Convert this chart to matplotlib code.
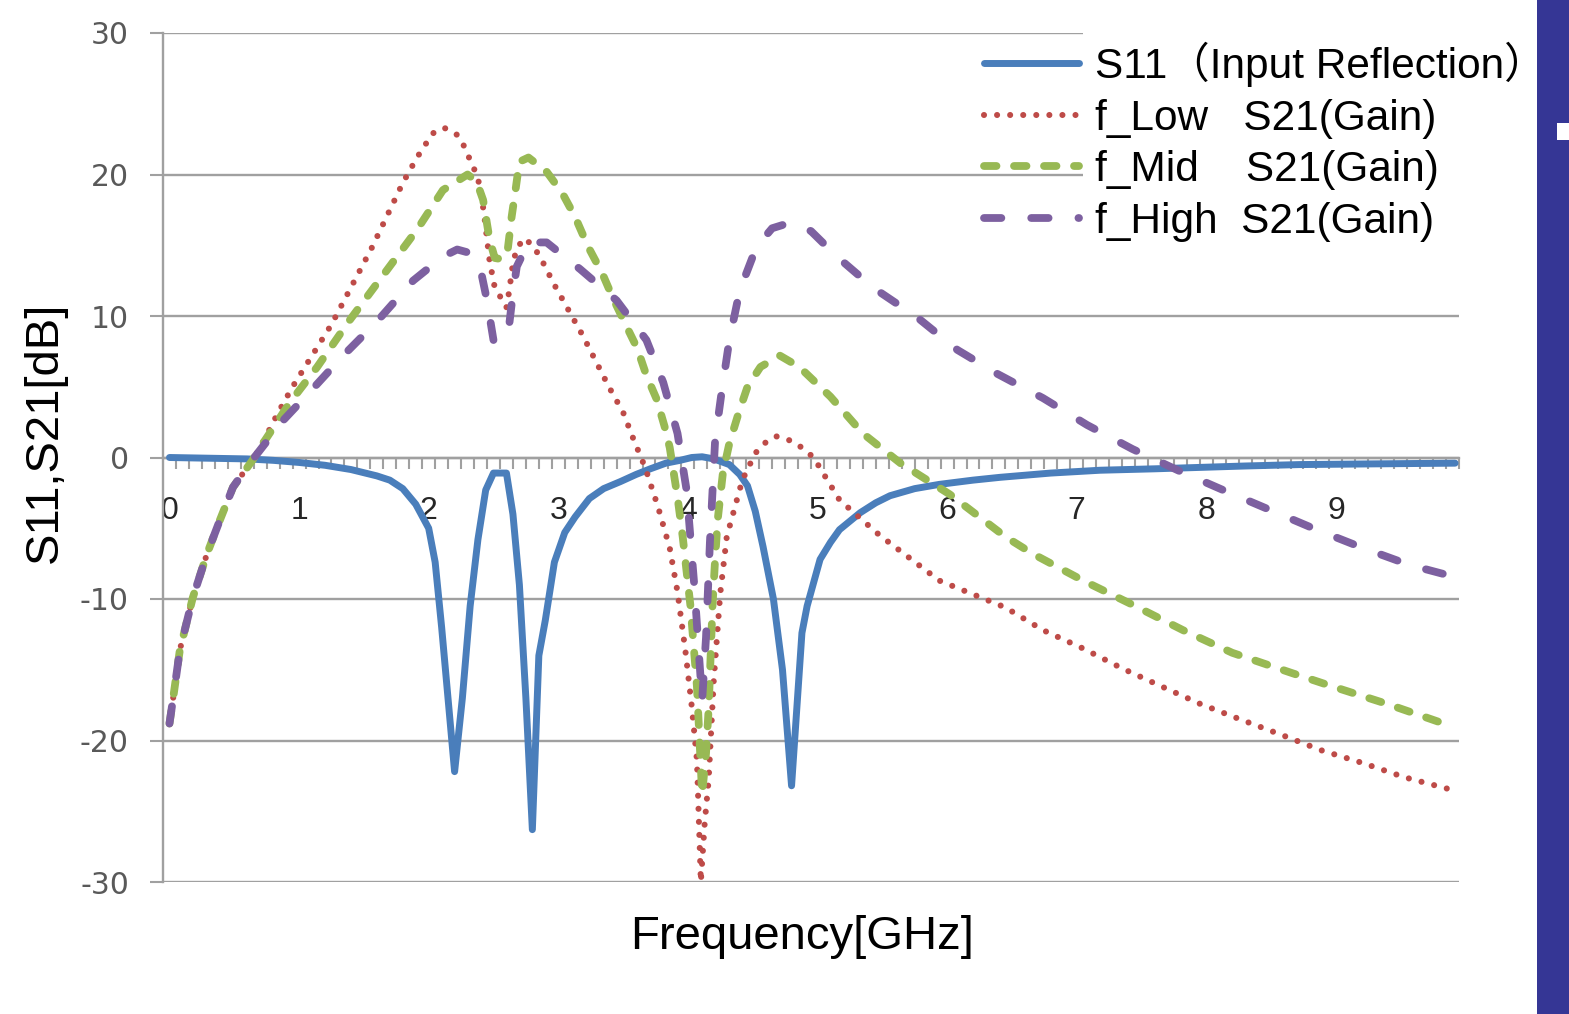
import matplotlib
matplotlib.use("Agg")
import matplotlib.pyplot as plt
import numpy as np
from matplotlib.patches import Rectangle
from matplotlib import font_manager as fm

plt.rcParams['lines.scale_dashes'] = False

# ---------------- data ----------------
s11_f = [0, 0.3, 0.6, 0.8, 1.0, 1.2, 1.4, 1.6, 1.7, 1.8, 1.9, 2.0, 2.05, 2.1, 2.2, 2.26, 2.32,
         2.38, 2.44, 2.5, 2.6, 2.65, 2.7, 2.75, 2.8, 2.85, 2.9, 2.97, 3.05, 3.13, 3.24, 3.35,
         3.48, 3.6, 3.71, 3.83, 3.94, 4.03, 4.11, 4.2, 4.32, 4.4, 4.46, 4.52, 4.58, 4.66, 4.73,
         4.8, 4.88, 4.92, 5.02, 5.1, 5.17, 5.33, 5.45, 5.56, 5.75, 5.94, 6.2, 6.41, 6.8, 7.18,
         7.6, 7.95, 8.3, 8.72, 9.3, 9.92]
s11_db = [0, -0.05, -0.1, -0.2, -0.35, -0.55, -0.85, -1.3, -1.6, -2.2, -3.3, -5.0, -7.4, -12,
          -22.2, -17, -10.5, -5.8, -2.3, -1.1, -1.1, -4, -9, -17, -26.3, -14, -11.5, -7.4,
          -5.3, -4.2, -2.9, -2.2, -1.7, -1.2, -0.8, -0.4, -0.2, 0.0, 0.05, -0.1, -0.5, -1.2,
          -2.0, -3.8, -6.3, -10, -15, -23.2, -12.4, -10.5, -7.2, -6.0, -5.1, -3.9, -3.2, -2.7,
          -2.2, -1.9, -1.6, -1.4, -1.1, -0.9, -0.8, -0.7, -0.6, -0.5, -0.45, -0.4]

low_f = [0, 0.03, 0.08, 0.18, 0.29, 0.39, 0.49, 0.64, 0.7, 0.84, 0.95, 1.25, 1.56, 1.8, 1.91,
         2.03, 2.12, 2.22, 2.28, 2.32, 2.37, 2.40, 2.43, 2.47, 2.51, 2.57, 2.60, 2.62, 2.65,
         2.68, 2.74, 2.81, 2.87, 2.97, 3.08, 3.19, 3.29, 3.39, 3.50, 3.58, 3.67, 3.77, 3.86,
         3.92, 3.98, 4.03, 4.07, 4.1, 4.13, 4.16, 4.2, 4.25, 4.3, 4.36, 4.42, 4.52, 4.59,
         4.68, 4.79, 4.88, 4.97, 5.17, 5.48, 5.94, 6.45, 6.74, 7.05, 7.35, 7.66, 7.95, 8.26,
         8.58, 8.89, 9.21, 9.53, 9.9]
low_db = [-18.8, -16.9, -13.6, -9.9, -6.8, -4.4, -2.1, -0.2, 0.7, 3.2, 5.0, 9.4, 14.8, 19.4,
          21.2, 22.9, 23.3, 22.8, 21.9, 21.0, 20.0, 19.0, 17.0, 13.9, 12.0, 11.1, 10.6, 11.7,
          13.7, 14.8, 15.5, 14.9, 14.0, 12.2, 10.4, 8.6, 6.8, 5.0, 3.2, 1.3, -0.7, -3.5, -6.4,
          -9.5, -13.6, -17.6, -21.4, -30, -25.8, -22.8, -15.7, -9.6, -5.6, -3.6, -1.6, 0.3,
          1.0, 1.5, 1.2, 0.7, 0.0, -3.0, -5.5, -8.7, -10.6, -12.2, -13.5, -14.9, -16.2, -17.4,
          -18.5, -19.6, -20.7, -21.6, -22.6, -23.5]

mid_f = [0, 0.03, 0.08, 0.18, 0.29, 0.39, 0.49, 0.64, 0.70, 0.93, 1.14, 1.39, 1.65, 1.91, 2.11,
         2.30, 2.37, 2.42, 2.47, 2.51, 2.57, 2.61, 2.64, 2.67, 2.70, 2.77, 2.91, 3.03, 3.13,
         3.23, 3.34, 3.42, 3.53, 3.61, 3.68, 3.76, 3.82, 3.86, 3.92, 3.96, 4.02, 4.07, 4.11,
         4.14, 4.16, 4.19, 4.21, 4.23, 4.27, 4.32, 4.39, 4.46, 4.56, 4.71, 4.86, 5.1, 5.35,
         5.64, 6.02, 6.45, 6.66, 7.05, 7.43, 7.82, 8.2, 8.65, 8.98, 9.39, 9.8]
mid_db = [-18.8, -16.9, -13.6, -9.9, -6.8, -4.4, -2.1, -0.2, 0.7, 3.9, 6.4, 9.7, 12.9, 16.1,
          18.9, 20.0, 19.5, 18.2, 15.4, 14.1, 14.0, 14.7, 17.0, 18.9, 20.9, 21.2, 20.2, 18.7,
          17.0, 14.9, 13.0, 11.3, 9.2, 7.7, 5.8, 4.1, 2.2, 0.7, -2.8, -5.6, -10.5, -16.2,
          -23.8, -20.9, -17.8, -10.5, -7.2, -4.4, -1.1, 1.0, 3.1, 5.0, 6.4, 7.2, 6.4, 4.3, 1.7,
          -0.4, -2.6, -5.6, -6.8, -8.7, -10.4, -12.2, -13.8, -15.2, -16.2, -17.4, -18.7]

high_f = [0, 0.03, 0.08, 0.18, 0.29, 0.39, 0.49, 0.62, 0.88, 1.08, 1.34, 1.60, 1.88, 2.11, 2.22,
          2.30, 2.40, 2.45, 2.50, 2.61, 2.65, 2.68, 2.77, 2.91, 3.17, 3.45, 3.68, 3.81, 3.92,
          3.99, 4.05, 4.11, 4.14, 4.17, 4.21, 4.26, 4.32, 4.40, 4.53, 4.65, 4.79, 4.95, 5.15,
          5.43, 5.77, 6.08, 6.39, 6.74, 7.08, 7.43, 7.78, 8.13, 8.49, 8.85, 9.21, 9.57, 9.9]
high_db = [-18.8, -16.9, -13.6, -9.9, -6.8, -4.4, -2.1, -0.4, 2.65, 4.6, 7.2, 9.6, 12.5, 14.2,
           14.7, 14.5, 13.3, 11.1, 8.3, 8.5, 11.6, 13.5, 15.2, 15.2, 13.3, 11.1, 8.3, 5.3, 1.7,
           -2.3, -9.1, -17.2, -12.7, -6.0, 1.2, 4.6, 8.3, 11.8, 14.9, 16.2, 16.6, 16.0, 14.2,
           12.0, 9.9, 7.6, 5.9, 4.2, 2.3, 0.6, -0.9, -2.3, -3.7, -5.1, -6.4, -7.6, -8.4]

labels = ["S11\uff08Input Reflection\uff09", "f_Low   S21(Gain)",
          "f_Mid    S21(Gain)", "f_High  S21(Gain)"]
x_ticks = list(range(10))
y_ticks = [-30, -20, -10, 0, 10, 20, 30]

# ---------------- figure ----------------
W, H = 1569, 1014
fig = plt.figure(figsize=(W / 100, H / 100), dpi=100)
fig.patch.set_facecolor("white")
ax = fig.add_axes([163 / W, 1 - 882 / H, (1459 - 163) / W, (882 - 33) / H])
ax.set_xlim(-0.05, 9.95)
ax.set_ylim(-30, 30)

grey = "#A0A0A0"
ax.set_axisbelow(True)
ax.yaxis.grid(True, color=grey, lw=1.7)
ax.xaxis.grid(False)
for s in ["top", "right"]:
    ax.spines[s].set_visible(False)
ax.spines["left"].set_color(grey)
ax.spines["left"].set_linewidth(1.7)
ax.spines["bottom"].set_position(("data", 0))
ax.spines["bottom"].set_color(grey)
ax.spines["bottom"].set_linewidth(1.7)

ax.set_yticks(y_ticks)
ax.set_yticklabels([str(v) for v in y_ticks], fontsize=21.5, color="#595959",
                   family="DejaVu Sans")
ax.tick_params(axis="y", length=9.5, width=1.5, color=grey, pad=15)

ax.set_xticks(x_ticks)
ax.set_xticklabels([str(v) for v in x_ticks], fontsize=23, color="#262626",
                   family="Liberation Sans")
ax.set_xticks(np.arange(0.05, 9.96, 0.1), minor=True)
ax.tick_params(axis="x", which="major", length=0, pad=27.5)
ax.tick_params(axis="x", which="minor", length=8, width=1.5, color=grey, direction="out")

# ---------------- series ----------------
l1, = ax.plot(s11_f, s11_db, color="#4A7EBB", lw=5.0, solid_joinstyle="round",
              solid_capstyle="round", zorder=3)
l2, = ax.plot(low_f, low_db, color="#BE4B48", lw=4.4, linestyle=(0, (0.01, 9.4)),
              dash_capstyle="round", zorder=4)
l3, = ax.plot(mid_f, mid_db, color="#98B954", lw=5.6, linestyle=(0, (9.0, 12.6)),
              dash_capstyle="round", zorder=5)
l4, = ax.plot(high_f, high_db, color="#7D60A0", lw=5.6, linestyle=(0, (12.5, 21.5)),
              dash_capstyle="round", zorder=6)

# white area behind the legend hiding grid lines
ax.add_patch(Rectangle((1083 / W, 1 - 245 / H), 377 / W, 220 / H, transform=fig.transFigure,
                       facecolor="white", edgecolor="none", clip_on=False, zorder=1))

prop = fm.FontProperties(family=["Liberation Sans", "Noto Sans CJK JP"], size=30.5)
leg = ax.legend([l1, l2, l3, l4], labels, loc="upper left",
                bbox_to_anchor=(984 / W, 1 - 42 / H), bbox_transform=fig.transFigure,
                frameon=False, prop=prop, handlelength=2.25, handletextpad=0.38,
                labelspacing=0.27, borderpad=0, borderaxespad=0)
leg.set_zorder(10)

# axis titles
names = {f.name for f in fm.fontManager.ttflist}
if "Liberation Sans Narrow" in names:
    fig.text(45 / W, 1 - 432 / H, "S11,S21[dB]", rotation=90, ha="center", va="center",
             fontsize=40, family="Liberation Sans Narrow", color="black")
else:
    fig.text(45 / W, 1 - 432 / H, "S11,S21[dB]", rotation=90, ha="center", va="center",
             fontsize=34, family="Liberation Sans", color="black")
fig.text(802 / W, 1 - 937 / H, "Frequency[GHz]", ha="center", va="center",
         fontsize=34, family="Liberation Sans", color="black")

# decorative bar on the right edge
fig.add_artist(Rectangle((1537 / W, 0), 40 / W, 1, transform=fig.transFigure,
                         facecolor="#353695", edgecolor="none"))
fig.add_artist(Rectangle((1557 / W, 1 - 140 / H), 14 / W, 17 / H, transform=fig.transFigure,
                         facecolor="white", edgecolor="none"))

fig.savefig("out.png", dpi=100)
